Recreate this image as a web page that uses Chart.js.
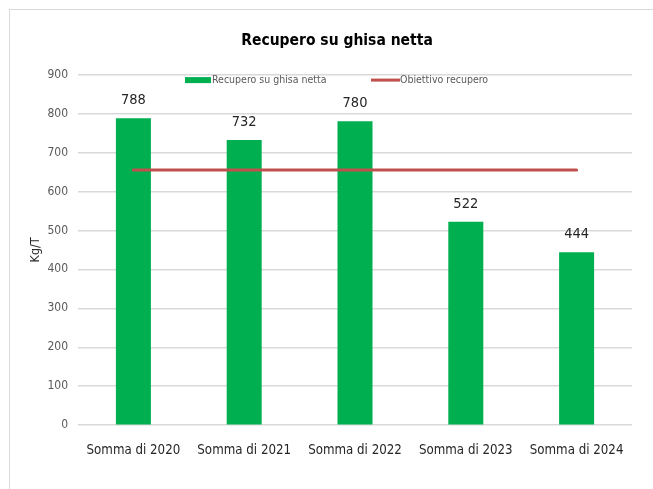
<!DOCTYPE html>
<html>
<head>
<meta charset="utf-8">
<script src="https://cdn.jsdelivr.net/npm/chart.js@4.4.1/dist/chart.umd.min.js"></script>
<style>
html,body{margin:0;padding:0;background:#fff;overflow:hidden;}
#wrap{position:absolute;left:0;top:0;width:653px;height:489px;}
</style>
</head>
<body>
<div id="wrap"><canvas id="c" width="653" height="489"></canvas></div>
<script>
const categories = ["Somma di 2020", "Somma di 2021", "Somma di 2022", "Somma di 2023", "Somma di 2024"];
const recupero = [788, 732, 780, 522, 444];
const obiettivo = [655, 655, 655, 655, 655];
const yTicks = [0, 100, 200, 300, 400, 500, 600, 700, 800, 900];
const chartTitle = "Recupero su ghisa netta";
const yTitle = "Kg/T";
const seriesNames = ["Recupero su ghisa netta", "Obiettivo recupero"];

const FONT = "'DejaVu Sans', sans-serif";
const GREEN = "#00B050";
const RED = "#C0504D";

const framePlugin = {
  id: 'frame',
  beforeDraw(chart) {
    const ctx = chart.ctx;
    ctx.save();
    ctx.fillStyle = '#ffffff';
    ctx.fillRect(0, 0, chart.width, chart.height);
    ctx.strokeStyle = '#D9D9D9';
    ctx.lineWidth = 1;
    ctx.strokeRect(9.5, 9.5, 800, 600);
    ctx.restore();
  },
  afterLayout(chart) {
    const t = chart.titleBlock;
    if (t) {
      const dx = 337 - (t.left + t.right) / 2;
      t.left += dx; t.right += dx;
    }
  }
};

const labelsPlugin = {
  id: 'valueLabels',
  afterDatasetsDraw(chart) {
    const ctx = chart.ctx;
    const meta = chart.getDatasetMeta(0);
    ctx.save();
    ctx.font = "condensed 14.5px " + FONT;
    ctx.fillStyle = '#262626';
    ctx.textAlign = 'center';
    ctx.textBaseline = 'alphabetic';
    meta.data.forEach((bar, i) => {
      ctx.fillText(String(chart.data.datasets[0].data[i]), bar.x, bar.y - 14);
    });
    ctx.restore();
  }
};

const legendPlugin = {
  id: 'innerLegend',
  afterDraw(chart) {
    const ctx = chart.ctx;
    const a = chart.chartArea;
    const ds = chart.data.datasets;
    const cy = a.top + 5.5;
    ctx.save();
    ctx.font = "condensed 10.5px " + FONT;
    ctx.textBaseline = 'middle';
    ctx.textAlign = 'left';
    let x = a.left + 107;
    ctx.fillStyle = ds[0].backgroundColor;
    ctx.fillRect(x, cy - 3, 26, 6);
    ctx.fillStyle = '#595959';
    ctx.fillText(ds[0].label, x + 27, cy);
    x = a.left + 293;
    ctx.strokeStyle = ds[1].borderColor;
    ctx.lineWidth = 3;
    ctx.beginPath();
    ctx.moveTo(x, cy);
    ctx.lineTo(x + 29, cy);
    ctx.stroke();
    ctx.fillText(ds[1].label, x + 29, cy);
    ctx.restore();
  }
};

new Chart(document.getElementById('c'), {
  data: {
    labels: categories,
    datasets: [
      {
        type: 'bar',
        label: seriesNames[0],
        data: recupero,
        backgroundColor: GREEN,
        borderWidth: 0,
        categoryPercentage: 1,
        barPercentage: 0.316,
        order: 2
      },
      {
        type: 'line',
        label: seriesNames[1],
        data: obiettivo,
        borderColor: RED,
        backgroundColor: RED,
        borderWidth: 3,
        borderCapStyle: 'round',
        pointRadius: 0,
        fill: false,
        order: 1
      }
    ]
  },
  options: {
    responsive: false,
    animation: false,
    devicePixelRatio: 1,
    layout: { padding: { top: 10, left: 20, right: 21, bottom: 14 } },
    plugins: {
      legend: { display: false },
      tooltip: { enabled: false },
      title: {
        display: true,
        text: chartTitle,
        color: '#000000',
        font: { family: FONT, size: 15.5, weight: 'bold condensed' },
        padding: { top: 21.5, bottom: 24.5 }
      }
    },
    scales: {
      x: {
        grid: { display: false, drawTicks: false },
        border: { display: false },
        ticks: {
          color: '#262626',
          font: { family: FONT, size: 13.2, weight: 'condensed' },
          padding: 17,
          maxRotation: 0,
          autoSkip: false
        }
      },
      y: {
        min: 0,
        max: 900,
        afterBuildTicks(scale) {
          scale.ticks = yTicks.map(v => ({ value: v }));
        },
        afterFit(scale) { scale.width = 58; },
        grid: { color: '#D9D9D9', lineWidth: 1.5, drawTicks: false },
        border: { display: false },
        ticks: {
          color: '#595959',
          font: { family: FONT, size: 12, weight: 'condensed' },
          padding: 10
        },
        title: {
          display: true,
          text: yTitle,
          color: '#262626',
          font: { family: FONT, size: 12.5, weight: 'condensed' },
          padding: { top: 8, bottom: 8 }
        }
      }
    }
  },
  plugins: [framePlugin, labelsPlugin, legendPlugin]
});
</script>
</body>
</html>
